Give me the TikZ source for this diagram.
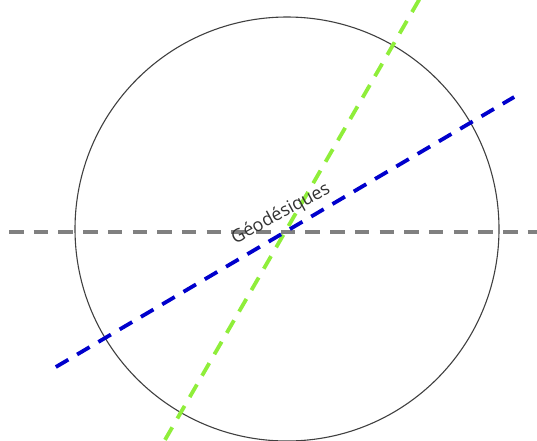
\documentclass[tikz,border=0pt]{standalone}
\usepackage{fontspec}
\setmainfont{Open Sans}
\usetikzlibrary{calc}
\definecolor{geoblue}{HTML}{0000CC}
\definecolor{geogreen}{HTML}{8FEE3A}
\definecolor{geogray}{HTML}{808080}
\definecolor{txtgray}{HTML}{333333}
\begin{document}
\begin{tikzpicture}[x=1pt,y=-1pt,
  geoline/.style={line width=3.8pt, dash pattern=on 14.5pt off 10.2pt},
  rim/.style={draw=black!75, line width=1.1pt}]
\useasboundingbox (0,0) rectangle (537,440);
\clip (0,0) rectangle (537,440);
\coordinate (O) at (287,229);
\coordinate (X) at (285,232);
\node[circle, rim, minimum size=424pt, inner sep=0pt] (c) at (O) {};
% gray horizontal geodesic
\coordinate (g1) at (9,232);
\coordinate (g2) at (545,232);
\draw[geoline, geogray] (g1) -- (g2);
% green geodesic
\coordinate (v1) at ($(X)+(-60:-240)$);
\coordinate (v2) at ($(X)+(-60:270)$);
% blue geodesic
\coordinate (b1) at ($(X)+(-30.5:-266)$);
\coordinate (b2) at ($(X)+(-30.5:266)$);
\draw[geoline, geogreen] (v1) -- (v2);
\draw[geoline, geoblue] (b1) -- (b2);
\node[text=txtgray, font=\fontsize{18}{20}\selectfont, rotate=28.5] (lbl) at (281,214) {Géodésiques};
\end{tikzpicture}
\end{document}
